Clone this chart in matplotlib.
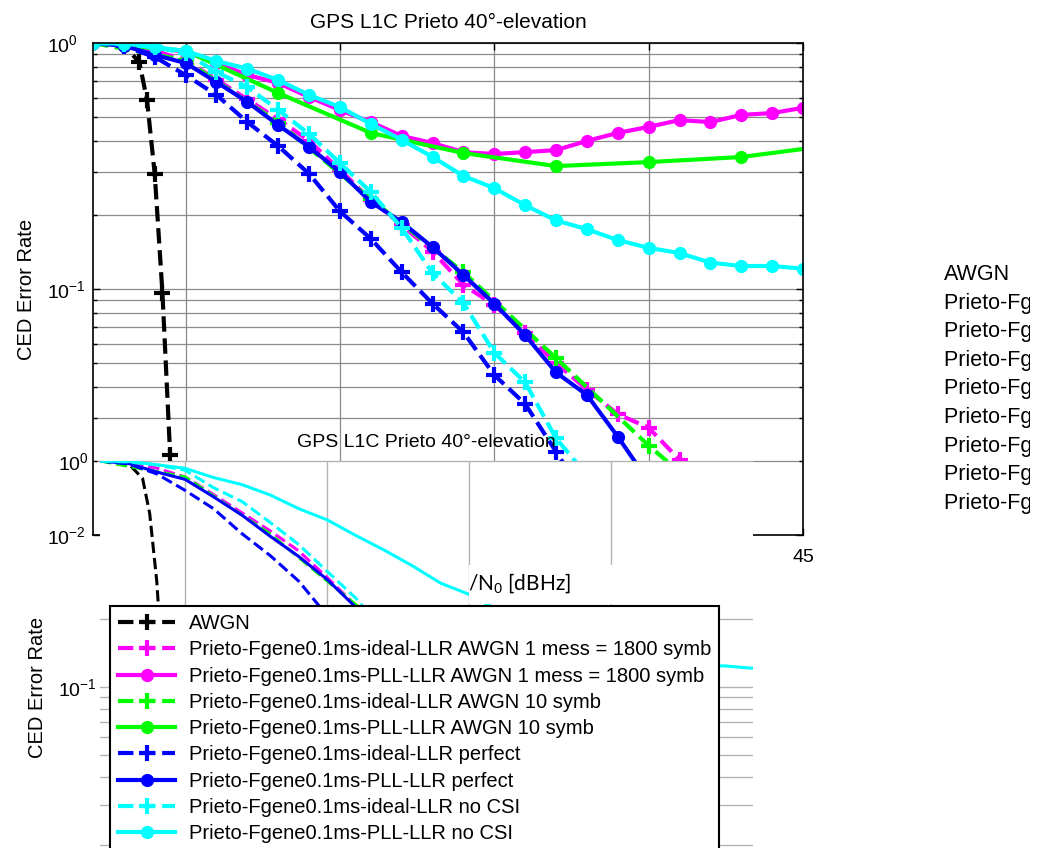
import matplotlib
matplotlib.use('Agg')
import matplotlib.pyplot as plt
from matplotlib.patches import Rectangle
from matplotlib.ticker import NullFormatter

plt.rcParams['font.family'] = ['Liberation Sans', 'DejaVu Sans']
plt.rcParams['mathtext.fontset'] = 'custom'
plt.rcParams['mathtext.rm'] = 'Liberation Sans'
plt.rcParams['mathtext.it'] = 'Liberation Sans:italic'
plt.rcParams['mathtext.bf'] = 'Liberation Sans:bold'

# ---------------- data ----------------
title = 'GPS L1C Prieto 40°-elevation'
ylabel = 'CED Error Rate'
xlabel_part = '/N$_0$ [dBHz]'

labels = [
    'AWGN',
    'Prieto-Fgene0.1ms-ideal-LLR AWGN 1 mess = 1800 symb',
    'Prieto-Fgene0.1ms-PLL-LLR AWGN 1 mess = 1800 symb',
    'Prieto-Fgene0.1ms-ideal-LLR AWGN 10 symb',
    'Prieto-Fgene0.1ms-PLL-LLR AWGN 10 symb',
    'Prieto-Fgene0.1ms-ideal-LLR perfect',
    'Prieto-Fgene0.1ms-PLL-LLR perfect',
    'Prieto-Fgene0.1ms-ideal-LLR no CSI',
    'Prieto-Fgene0.1ms-PLL-LLR no CSI',
]

x_awgn = [22, 23, 23.5, 23.75, 24, 24.25, 24.5]
y_awgn = [1.0, 0.975, 0.837, 0.586, 0.293, 0.0963, 0.0211]

x_mag_ideal = list(range(22, 42))
y_mag_ideal = [1.0, 0.98, 0.93, 0.85, 0.71, 0.59, 0.49, 0.40, 0.305, 0.23,
               0.182, 0.142, 0.104, 0.086, 0.066, 0.050, 0.039, 0.031, 0.0273, 0.0202]

x_mag_pll = list(range(22, 46))
y_mag_pll = [1.0, 0.99, 0.96, 0.92, 0.83, 0.741, 0.688, 0.603, 0.534, 0.477,
             0.419, 0.392, 0.36, 0.354, 0.36, 0.367, 0.40, 0.431, 0.456, 0.486,
             0.477, 0.51, 0.519, 0.545]

x_grn_ideal = [22, 25, 28, 31, 34, 37, 40, 43]
y_grn_ideal = [1.0, 0.85, 0.475, 0.232, 0.117, 0.0524, 0.0231, 0.011]

x_grn_pll = [22, 25, 28, 31, 34, 37, 40, 43, 46]
y_grn_pll = [1.0, 0.93, 0.626, 0.431, 0.357, 0.316, 0.328, 0.344, 0.385]

x_blu_ideal = list(range(22, 39))
y_blu_ideal = [1.0, 0.97, 0.877, 0.741, 0.615, 0.477, 0.381, 0.294, 0.207, 0.160,
               0.117, 0.0872, 0.0667, 0.0447, 0.0341, 0.0218, 0.0139]

x_blu_pll = list(range(22, 41))
y_blu_pll = [1.0, 0.975, 0.894, 0.829, 0.694, 0.576, 0.464, 0.378, 0.299, 0.226,
             0.187, 0.148, 0.114, 0.0872, 0.0649, 0.0458, 0.0371, 0.0251, 0.0165]

x_cya_ideal = list(range(22, 39))
y_cya_ideal = [1.0, 0.99, 0.96, 0.91, 0.762, 0.662, 0.534, 0.427, 0.325, 0.248,
               0.177, 0.116, 0.0877, 0.0551, 0.0417, 0.0247, 0.0175]

x_cya_pll = list(range(22, 46))
y_cya_pll = [1.0, 0.995, 0.963, 0.928, 0.845, 0.786, 0.707, 0.615, 0.549, 0.469,
             0.404, 0.344, 0.288, 0.257, 0.219, 0.190, 0.175, 0.158, 0.147, 0.140,
             0.128, 0.124, 0.124, 0.121]

xs = [x_awgn, x_mag_ideal, x_mag_pll, x_grn_ideal, x_grn_pll,
      x_blu_ideal, x_blu_pll, x_cya_ideal, x_cya_pll]
ys = [y_awgn, y_mag_ideal, y_mag_pll, y_grn_ideal, y_grn_pll,
      y_blu_ideal, y_blu_pll, y_cya_ideal, y_cya_pll]

# which series also appear in the overlapping (lower) axes
in_lower = [True, True, False, True, False, True, True, True, True]

colors = ['#000000', '#ff00ff', '#ff00ff', '#00ff00', '#00ff00',
          '#0000ff', '#0000ff', '#00ffff', '#00ffff']
lstyles = ['--', '--', '-', '--', '-', '--', '-', '--', '-']
markers = ['+', '+', 'o', '+', 'o', '+', 'o', '+', 'o']

xticks_main = [25, 30, 35, 40, 45]
xticks_inset = [25, 30, 35, 40]
yticks = [0.01, 0.1, 1]
ytick_labels = ['$10^{-2}$', '$10^{-1}$', '$10^{0}$']
inset_minor = [0.02, 0.03, 0.04, 0.05, 0.06, 0.07, 0.08, 0.09, 0.2]

# ---------------- layout helpers ----------------
W, H = 1040, 848
def fx(px):
    return px / W
def fy(py):
    return 1 - py / H

fig = plt.figure(figsize=(W / 100, H / 100), dpi=100)
fig.patch.set_facecolor('white')

ax1 = fig.add_axes([fx(93), fy(535), (803 - 93) / W, (535 - 43) / H])
ax2 = fig.add_axes([fx(100), fy(913), (753 - 100) / W, (913 - 461) / H])
ax3 = fig.add_axes([fx(938), 0, (1030 - 938) / W, 1])
ax3.axis('off')

# ---------------- main axes ----------------
lines = []
for x, y, c, ls, mk, lab, low in zip(xs, ys, colors, lstyles, markers, labels, in_lower):
    if mk == 'o':
        l, = ax1.plot(x, y, color=c, ls=ls, lw=3, marker='o', ms=8,
                      mfc=c, mec=c, mew=1.5, label=lab)
    else:
        l, = ax1.plot(x, y, color=c, ls=ls, lw=3, marker='+', ms=11,
                      mec=c, mew=3, label=lab)
    lines.append(l)
    if low:
        ax2.plot(x, y, color=c, ls=ls, lw=2.2)

ax1.set_yscale('log')
ax1.set_xlim(22, 45)
ax1.set_ylim(0.01, 1)
ax1.set_xticks(xticks_main)
ax1.set_yticks(yticks, labels=ytick_labels)
ax1.yaxis.set_minor_formatter(NullFormatter())
ax1.grid(True, which='major', color='#8a8a8a', lw=0.9)
ax1.grid(True, which='minor', axis='y', color='#8a8a8a', lw=0.9)
ax1.tick_params(which='both', direction='in', top=True, right=True,
                length=5, width=1, labelsize=14)
ax1.tick_params(which='minor', length=3)
ax1.tick_params(axis='x', pad=10)
ax1.tick_params(axis='y', pad=33)
for t in ax1.get_yticklabels():
    t.set_horizontalalignment('left')
for s in ax1.spines.values():
    s.set_linewidth(1.2)
ax1.set_title(title, fontsize=15, pad=11)
ax1.set_ylabel(ylabel, fontsize=14.5)
ax1.yaxis.set_label_coords((36 - 93) / 710, 0.5)

# ---------------- overlapping second axes ----------------
ax2.set_facecolor('white')
ax2.set_yscale('log')
ax2.set_xlim(22, 45)
ax2.set_ylim(0.01, 1)
for s in ax2.spines.values():
    s.set_visible(False)
ax2.set_xticks(xticks_inset)
ax2.tick_params(axis='x', labelbottom=False, length=0)
ax2.set_yticks(yticks, labels=ytick_labels)
ax2.set_yticks(inset_minor, minor=True)
ax2.yaxis.set_minor_formatter(NullFormatter())
ax2.tick_params(axis='y', which='both', length=0, pad=30, labelsize=14)
for t in ax2.get_yticklabels():
    t.set_horizontalalignment('left')
ax2.grid(True, which='major', color='#b4b4b4', lw=1)
ax2.grid(True, which='minor', axis='y', color='#b4b4b4', lw=1)
ax2.set_title(title, fontsize=14, pad=10)
ax2.set_ylabel(ylabel, fontsize=14.5)
ax2.yaxis.set_label_coords((47 - 100) / 653, 0.5)

leg = ax2.legend(handles=lines, labels=labels, loc='upper left',
                 bbox_to_anchor=(fx(110), fy(606)), bbox_transform=fig.transFigure,
                 borderaxespad=0, fontsize=14.5, handlelength=2.85,
                 handletextpad=0.65, labelspacing=0.36, borderpad=0.4,
                 fancybox=False, framealpha=1, edgecolor='black')
leg.get_frame().set_linewidth(1.5)

# white strip behind the partial x label
fig.add_artist(Rectangle((fx(469), fy(604)), (753 - 469) / W, (604 - 565) / H,
                         transform=fig.transFigure, facecolor='white',
                         edgecolor='none', zorder=2))
fig.text(fx(468), fy(590), xlabel_part, fontsize=15,
         family=['Lato', 'DejaVu Sans'], va='baseline', ha='left', zorder=3)

# ---------------- cut-off label list on the right ----------------
for i, lab in enumerate(labels):
    ax3.text(fx(944), fy(280 + i * 28.6), lab, transform=fig.transFigure,
             fontsize=15.5, va='baseline', ha='left', clip_on=True)

fig.savefig('out.png', dpi=100)
